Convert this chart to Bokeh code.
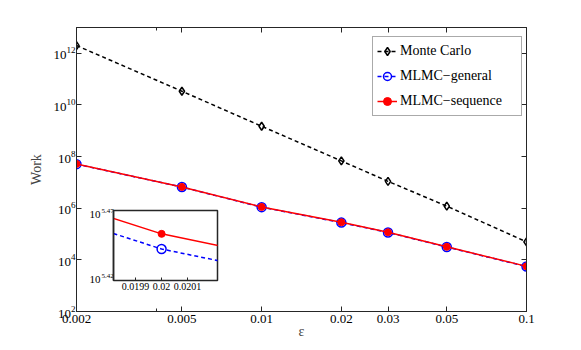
from bokeh.plotting import figure
from bokeh.models import (LogAxis, FixedTicker, Legend, LegendItem, Range1d,
                          GridBox, Label, ColumnDataSource)
from bokeh.embed import file_html
from bokeh.resources import INLINE

# ---------------- data ----------------
eps = [0.002, 0.005, 0.01, 0.02, 0.03, 0.05, 0.1]
work_mc = [2.0e12, 3.4e10, 1.5e9, 6.8e7, 1.1e7, 1.2e6, 5.0e4]
work_general = [5.1e7, 6.6e6, 1.1e6, 2.77e5, 1.15e5, 3.15e4, 5.5e3]
work_sequence = [5.2e7, 6.7e6, 1.12e6, 2.84e5, 1.17e5, 3.2e4, 5.6e3]

x_ticks = [0.002, 0.005, 0.01, 0.02, 0.03, 0.05, 0.1]
x_tick_labels = ["0.002", "0.005", "0.01", "0.02", "0.03", "0.05", "0.1"]
x_minor_ticks = [0.004]
y_ticks = [1e2, 1e4, 1e6, 1e8, 1e10, 1e12]

inset_x_ticks = [0.0199, 0.02, 0.0201]
inset_x_labels = ["0.0199", "0.02", "0.0201"]
inset_y_exponents = [5.42, 5.47]

labels = ["Monte Carlo", "MLMC\u2212general", "MLMC\u2212sequence"]

FONT = "'Liberation Serif', 'Times New Roman', serif"
AX = "#262626"

# layout geometry (pixels)
MAIN_L, MAIN_T, MAIN_W, MAIN_H = 76, 27, 450, 284
INS_L, INS_T, INS_W, INS_H = 113, 210, 104, 70      # inset frame box on the page
INS_BL, INS_BT = 30, 10                              # inset borders left / top

src = ColumnDataSource(dict(eps=eps, mc=work_mc, gen=work_general, seq=work_sequence))


def style_axis(ax, size="13px", standoff=3):
    ax.axis_line_color = AX
    ax.major_tick_line_color = AX
    ax.minor_tick_line_color = AX
    ax.major_tick_in = 5
    ax.major_tick_out = 0
    ax.minor_tick_in = 3
    ax.minor_tick_out = 0
    ax.major_label_text_font = FONT
    ax.major_label_text_font_size = size
    ax.major_label_text_color = "black"
    ax.major_label_standoff = standoff


def draw(fig):
    r = {}
    r["mc_l"] = fig.line("eps", "mc", source=src, line_color="black", line_dash="4 3", line_width=1.5)
    r["mc_p"] = fig.scatter("eps", "mc", source=src, marker="diamond", size=8, line_color="black",
                            fill_alpha=0, line_width=1.5)
    r["gen_l"] = fig.line("eps", "gen", source=src, line_color="blue", line_dash="4 3", line_width=1.5)
    r["gen_p"] = fig.scatter("eps", "gen", source=src, marker="circle", size=9, line_color="blue",
                             fill_alpha=0, line_width=1.5)
    r["seq_l"] = fig.line("eps", "seq", source=src, line_color="red", line_width=1.5)
    r["seq_p"] = fig.scatter("eps", "seq", source=src, marker="circle", size=7, line_color="red",
                             fill_color="red")
    return r


# ---------------- main figure ----------------
p = figure(x_axis_type="log", y_axis_type="log",
           x_range=Range1d(0.002, 0.1), y_range=Range1d(1e2, 1e13),
           frame_width=MAIN_W, frame_height=MAIN_H,
           min_border_left=MAIN_L, min_border_top=MAIN_T, min_border_right=50, min_border_bottom=10,
           output_backend="svg", toolbar_location=None,
           background_fill_color="white", border_fill_color="white")
p.grid.visible = False
p.outline_line_color = AX

xa = p.xaxis[0]
xa.ticker = FixedTicker(ticks=x_ticks, minor_ticks=x_minor_ticks)
xa.major_label_overrides = {t: l for t, l in zip(x_ticks, x_tick_labels)}
style_axis(xa, "13px", 3)
xa.axis_label = "\u03b5"
xa.axis_label_text_font = FONT
xa.axis_label_text_font_size = "14px"
xa.axis_label_text_font_style = "normal"
xa.axis_label_standoff = -2

ya = p.yaxis[0]
ya.ticker = FixedTicker(ticks=y_ticks, minor_ticks=[])
style_axis(ya, "13px", 1)
ya.axis_label = "Work"
ya.axis_label_text_font = FONT
ya.axis_label_text_font_size = "14px"
ya.axis_label_text_font_style = "normal"
ya.axis_label_standoff = 6

top_ax = LogAxis(ticker=FixedTicker(ticks=x_ticks, minor_ticks=x_minor_ticks))
style_axis(top_ax, "0px", 0)
top_ax.major_label_text_alpha = 0
p.add_layout(top_ax, "above")

right_ax = LogAxis(ticker=FixedTicker(ticks=y_ticks, minor_ticks=[]))
style_axis(right_ax, "0px", 0)
right_ax.major_label_text_alpha = 0
p.add_layout(right_ax, "right")

r = draw(p)

legend = Legend(items=[
    LegendItem(label=labels[0], renderers=[r["mc_l"], r["mc_p"]]),
    LegendItem(label=labels[1], renderers=[r["gen_l"], r["gen_p"]]),
    LegendItem(label=labels[2], renderers=[r["seq_l"], r["seq_p"]]),
], location=(296, 195))
legend.label_text_font = FONT
legend.label_text_font_size = "14px"
legend.label_text_color = "black"
legend.label_width = 117
legend.label_height = 20
legend.glyph_width = 20
legend.glyph_height = 20
legend.label_standoff = 3
legend.spacing = 5
legend.padding = 4
legend.border_line_color = "#555555"
legend.border_line_width = 1
legend.background_fill_color = "white"
legend.background_fill_alpha = 1
p.add_layout(legend)

# inset's y tick labels (10 with raised exponent), drawn on the main canvas beside the inset box
for i, e in enumerate(inset_y_exponents):
    tick_y = (MAIN_T + MAIN_H) - (INS_T + INS_H) if i == 0 else (MAIN_T + MAIN_H) - INS_T
    dy = 1 if i == 0 else -4
    fx = INS_L - MAIN_L
    p.add_layout(Label(x=fx - 24, y=tick_y + dy, x_units="screen", y_units="screen", text="10",
                       text_font=FONT, text_font_size="11px", text_baseline="middle",
                       text_align="left", text_color="black"))
    p.add_layout(Label(x=fx - 12, y=tick_y + dy + 4, x_units="screen", y_units="screen",
                       text=f"{e:.2f}",
                       text_font=FONT, text_font_size="7px", text_baseline="middle",
                       text_align="left", text_color="black"))

# ---------------- inset ----------------
ins = figure(y_axis_type="log",
             x_range=Range1d(0.019815, 0.020215),
             y_range=Range1d(10 ** inset_y_exponents[0], 10 ** inset_y_exponents[1]),
             frame_width=INS_W, frame_height=INS_H,
             min_border_left=INS_BL, min_border_top=INS_BT, min_border_right=4, min_border_bottom=18,
             output_backend="svg", toolbar_location=None,
             background_fill_color="white", border_fill_alpha=0)
ins.grid.visible = False
ins.outline_line_color = AX
ins.outline_line_width = 1.5

ixa = ins.xaxis[0]
ixa.ticker = FixedTicker(ticks=inset_x_ticks, minor_ticks=[])
ixa.major_label_overrides = {t: l for t, l in zip(inset_x_ticks, inset_x_labels)}
style_axis(ixa, "10px", 2)
ixa.major_tick_in = 3

iya = ins.yaxis[0]
iya.ticker = FixedTicker(ticks=[10 ** e for e in inset_y_exponents], minor_ticks=[])
style_axis(iya, "0px", 0)
iya.major_label_text_alpha = 0
iya.major_tick_in = 0
iya.axis_line_width = 1.5

draw(ins)

grid = GridBox(children=[(p, 0, 0, 3, 3), (ins, 1, 1, 1, 1)],
               rows=[f"{INS_T - INS_BT}px", "auto", "auto"],
               cols=[f"{INS_L - INS_BL}px", "auto", "auto"], spacing=0)

open("out.html", "w").write(file_html(grid, INLINE))
